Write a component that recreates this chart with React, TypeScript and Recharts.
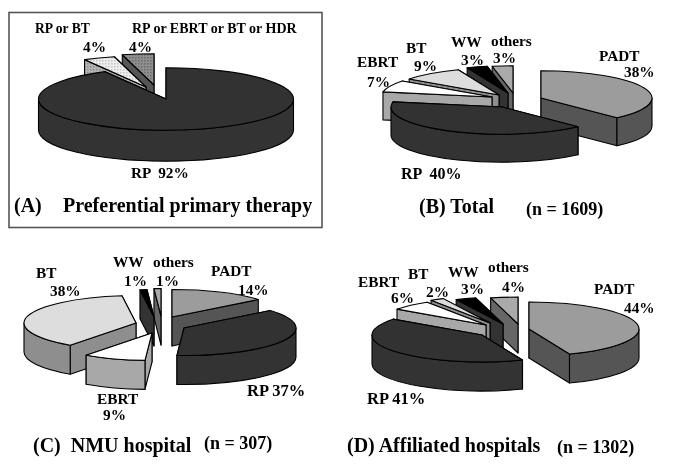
import { PieChart, Pie } from 'recharts'

const W = 685
const H = 469
const TILT = 0.245

// chart values, clockwise from 12 o'clock
const namesA = ['RP', 'RP or BT', 'RP or EBRT or BT or HDR']
const valuesA = [92, 4, 4]
const namesB = ['PADT', 'RP', 'EBRT', 'BT', 'WW', 'others']
const valuesB = [38, 40, 7, 9, 3, 3]
const valuesC = [14, 37, 9, 38, 1, 1]
const valuesD = [44, 41, 6, 2, 3, 4]

// how far each slice is pulled out of the pie
const explodeA = [[16, 11], [-4, -1], [4, -3]]
const explodeB = [[36, -2], [-3, 7], [-13, -3], [-6, -5], [3, -7], [8, -7]]
const explodeC = [[17, -3], [29, 8], [-3, 13], [-19, 3], [-1, -3], [6, -4]]
const explodeD = [[34, 4], [-13, 10], [-9, 0], [-5, -2], [8, -1], [23, -1]]

// back to front paint order
const orderA = ['RP or EBRT or BT or HDR', 'RP or BT', 'RP']
const orderB = ['others', 'WW', 'BT', 'EBRT', 'PADT', 'RP']
const orderC = ['others', 'WW', 'BT', 'PADT', 'RP', 'EBRT']
const orderD = ['others', 'WW', 'BT', 'EBRT', 'PADT', 'RP']

const colors: Record<string, [string, string]> = {
  PADT: ['#9c9c9c', '#555555'],
  RP: ['#323232', '#333333'],
  EBRT: ['#ffffff', '#a8a8a8'],
  BT: ['#dddddd', '#8e8e8e'],
  WW: ['#000000', '#333333'],
  others: ['#aaaaaa', '#666666'],
  'RP or BT': ['url(#dotsLight)', 'url(#dotsMid)'],
  'RP or EBRT or BT or HDR': ['url(#dotsDark)', '#555555'],
}

const pies = [
  { id: 'A', names: namesA, values: valuesA, explode: explodeA, order: orderA, cx: 150, cy: 88, r: 127.5, depth: 31 },
  { id: 'B', names: namesB, values: valuesB, explode: explodeB, order: orderB, cx: 505, cy: 100, r: 111, depth: 28 },
  { id: 'C', names: namesB, values: valuesC, explode: explodeC, order: orderC, cx: 155, cy: 320, r: 112, depth: 29 },
  { id: 'D', names: namesB, values: valuesD, explode: explodeD, order: orderD, cx: 495, cy: 325, r: 110, depth: 29 },
]

type Label = [string, number, number, number?]
const labels: Label[] = [
  ['RP or BT', 35, 33, 13.6], ['4%', 83, 52], ['RP or EBRT or BT or HDR', 132, 33, 14], ['4%', 129, 52], ['RP  92%', 131, 178],
  ['PADT', 599, 61], ['38%', 624, 77], ['others', 491, 46], ['3%', 493, 63], ['WW', 451, 47], ['3%', 461, 65],
  ['BT', 406, 53], ['9%', 414, 71], ['EBRT', 357, 67], ['7%', 367, 87], ['RP  40%', 401, 179, 16],
  ['WW', 113, 267], ['others', 153, 267], ['PADT', 211, 276], ['BT', 36, 278], ['38%', 50, 296], ['1%', 124, 286],
  ['1%', 156, 286], ['14%', 238, 295], ['RP 37%', 247, 396, 16.5], ['EBRT', 97, 404], ['9%', 103, 420],
  ['others', 488, 272], ['BT', 408, 279], ['WW', 448, 277], ['EBRT', 358, 287], ['PADT', 594, 294], ['2%', 426, 297],
  ['3%', 461, 294], ['4%', 502, 292], ['6%', 391, 303], ['44%', 624, 313], ['RP 41%', 367, 404, 16.5],
]
const titles: Label[] = [
  ['(A)', 14, 212, 20], ['Preferential primary therapy', 63, 212, 20],
  ['(B) Total', 419, 213, 20], ['(n = 1609)', 526, 215, 18],
  ['(C)  NMU hospital', 33, 452, 20], ['(n = 307)', 204, 449, 18],
  ['(D) Affiliated hospitals', 347, 452, 20], ['(n = 1302)', 557, 453, 18],
]

const rad = (a: number) => (a * Math.PI) / 180

function wedge(layer: string, explode: number[][], names: string[], depth: number) {
  return (props: any) => {
    const name = props.payload?.name ?? props.name
    if (name !== layer) return <g />
    const [dx, dy] = explode[names.indexOf(name)]
    const { startAngle: a0, endAngle: a1, outerRadius: r } = props
    const ax = props.cx + dx
    const ay = props.cy + dy
    const ry = r * TILT
    const pt = (a: number, d = 0) => `${ax + r * Math.cos(rad(a))} ${ay - ry * Math.sin(rad(a)) + d}`
    const [top, side] = colors[name]
    const face = (a: number) => `M${ax} ${ay}L${pt(a)}L${pt(a, depth)}L${ax} ${ay + depth}Z`
    // the cut face further back goes first
    const cuts = Math.sin(rad(a0)) > Math.sin(rad(a1)) ? [a0, a1] : [a1, a0]
    // visible part of the rim is the front half of the ellipse
    const hi = Math.min(a0, 0)
    const lo = Math.max(a1, -180)
    const large = a0 - a1 > 180 ? 1 : 0
    return (
      <g stroke="#000" strokeWidth={1.1} strokeLinejoin="round">
        <path d={face(cuts[0])} fill={side} />
        <path d={face(cuts[1])} fill={side} />
        {hi > lo && (
          <path
            d={`M${pt(hi)}A${r} ${ry} 0 0 1 ${pt(lo)}L${pt(lo, depth)}A${r} ${ry} 0 0 0 ${pt(hi, depth)}Z`}
            fill={side}
          />
        )}
        <path d={`M${ax} ${ay}L${pt(a0)}A${r} ${ry} 0 ${large} 1 ${pt(a1)}Z`} fill={top} />
      </g>
    )
  }
}

const serif = { fontFamily: '"Liberation Serif", serif', fontWeight: 700, fill: '#000', whiteSpace: 'pre' as const }

export default function App() {
  return (
    <div style={{ position: 'absolute', left: 0, top: 0, width: W, height: H, background: '#fff', filter: 'blur(0.35px)' }}>
      <PieChart width={W} height={H} margin={{ top: 0, right: 0, bottom: 0, left: 0 }}>
        <defs>
          <pattern id="dotsLight" width={3} height={3} patternUnits="userSpaceOnUse">
            <rect width={3} height={3} fill="#eeeeee" />
            <rect width={1.5} height={1.5} fill="#c4c4c4" />
          </pattern>
          <pattern id="dotsMid" width={3} height={3} patternUnits="userSpaceOnUse">
            <rect width={3} height={3} fill="#b4b4b4" />
            <rect width={1.5} height={1.5} fill="#8c8c8c" />
          </pattern>
          <pattern id="dotsDark" width={3} height={3} patternUnits="userSpaceOnUse">
            <rect width={3} height={3} fill="#8f8f8f" />
            <rect width={1.5} height={1.5} fill="#6c6c6c" />
          </pattern>
        </defs>
        <rect x={9} y={12.5} width={313} height={215} fill="none" stroke="#555" strokeWidth={1.6} />
        {pies.flatMap((p) => {
          const rows = p.names.map((name, i) => ({ name, value: p.values[i] }))
          return p.order.map((layer) => (
            <Pie
              key={p.id + layer}
              data={rows}
              dataKey="value"
              nameKey="name"
              cx={p.cx}
              cy={p.cy}
              outerRadius={p.r}
              startAngle={90}
              endAngle={-270}
              isAnimationActive={false}
              shape={wedge(layer, p.explode, p.names, p.depth)}
            />
          ))
        })}
        {[...labels, ...titles].map(([t, x, y, size], i) => (
          <text key={i} x={x} y={y} fontSize={size ?? 15.3} style={serif}>{t}</text>
        ))}
      </PieChart>
    </div>
  )
}
